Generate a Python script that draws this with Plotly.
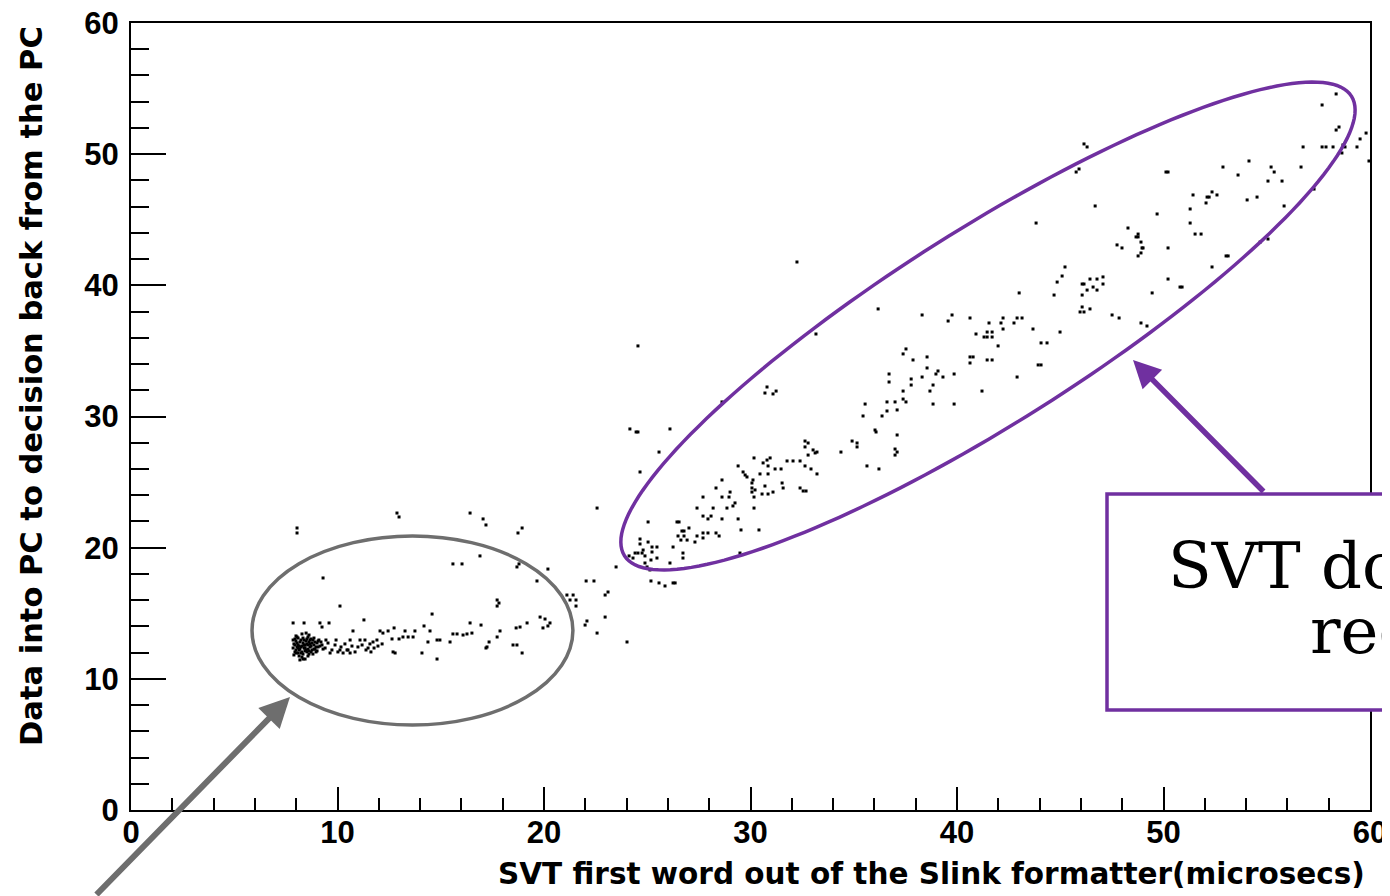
import math
import plotly.graph_objects as go

# ---------------- data ----------------
# low-latency region: scattered points
low_x = [8.04, 8.04, 12.88, 12.98, 16.42, 17.05, 17.19, 18.94, 18.74, 22.57, 16.90, 15.59, 16.03, 18.69, 18.79,
         20.19, 9.30, 19.66, 22.04, 22.42, 21.11, 21.41, 21.26, 21.55, 21.55, 17.73, 17.82, 17.73, 10.12, 14.58,
         11.28, 7.85, 8.38, 9.15, 9.59, 9.25, 16.42, 16.95, 19.18, 19.81, 20.05, 20.29, 20.19, 19.95, 22.08,
         21.99, 22.57, 18.65, 18.84, 14.19, 12.74, 12.45, 13.27, 13.75, 12.06, 12.20, 10.75, 14.48, 17.87, 15.59,
         15.79, 16.27, 16.51, 13.17, 13.42, 13.66, 14.82, 14.96, 15.45, 14.38, 17.34, 17.73, 12.64, 12.98, 17.24,
         18.50, 18.69, 12.69, 12.79, 14.09, 18.94, 14.82, 8.33, 11.33, 11.72, 11.91, 10.12, 10.46, 10.61, 10.99,
         11.48, 22.96, 23.10, 22.96, 24.02, 23.49, 16.08, 17.19]
low_y = [21.50, 21.12, 22.64, 22.34, 22.64, 22.19, 21.73, 21.50, 21.12, 23.02, 19.37, 18.76, 18.76, 18.53, 18.76,
         18.37, 17.69, 17.46, 17.46, 17.46, 16.39, 16.39, 16.01, 16.01, 15.55, 16.01, 15.78, 15.55, 15.55, 14.94,
         14.49, 14.26, 14.26, 14.26, 14.26, 13.95, 14.26, 14.10, 14.26, 14.71, 14.56, 14.26, 14.03, 13.88, 14.41,
         14.10, 13.49, 13.88, 13.95, 14.03, 13.88, 13.65, 13.65, 13.65, 13.65, 13.49, 13.65, 13.65, 13.65, 13.42,
         13.42, 13.42, 13.49, 13.19, 13.19, 13.19, 12.96, 12.96, 12.81, 12.81, 12.81, 13.19, 13.04, 13.04, 12.43,
         12.58, 12.58, 12.05, 11.97, 11.97, 11.97, 11.51, 11.51, 12.96, 12.81, 12.96, 12.20, 12.20, 11.97, 12.43,
         12.35, 16.39, 16.62, 14.71, 12.81, 18.53, 13.34, 12.35]

# low-latency region: dense cluster near 8-12 microsecs
cluster_x = [7.85, 7.94, 7.99, 7.89, 8.09, 8.18, 8.23, 8.28, 8.14, 8.38, 8.43, 8.48, 8.33, 8.57, 8.62, 8.67, 8.72,
             8.81, 8.86, 8.91, 9.01, 9.06, 8.04, 8.18, 8.52, 8.77, 7.99, 8.28, 8.48, 8.62, 8.18, 8.43, 8.57, 8.96,
             9.10, 8.09, 8.38, 8.67, 7.85, 7.94, 7.99, 8.14, 8.33, 8.48, 8.72, 8.81, 8.28, 8.04, 8.43, 8.57,
             7.89, 7.94, 8.04, 8.09, 8.14, 8.23, 8.23, 8.33, 8.38, 8.43, 8.52, 8.52, 8.57, 8.62, 8.67, 8.72,
             8.77, 8.86, 8.91, 8.96, 9.01, 9.06, 8.09, 8.28, 8.00, 8.62, 8.86, 9.15, 9.20, 9.30,
             9.25, 9.40, 9.54, 9.73, 9.88, 10.02, 10.17, 10.36, 10.51, 10.70, 10.85, 11.19, 11.38, 11.57, 11.77,
             11.96, 12.16, 9.44, 9.64, 9.93, 10.27, 10.61, 11.09, 11.62]
cluster_y = [12.96, 12.58, 12.20, 11.82, 13.11, 12.81, 12.43, 12.05, 11.74, 12.96, 12.58, 12.20, 11.89, 13.19,
             12.81, 12.43, 12.05, 12.96, 12.58, 12.27, 12.73, 12.43, 12.73, 12.27, 12.66, 12.20, 13.27, 13.42,
             13.49, 13.34, 11.44, 11.51, 11.74, 12.05, 12.96, 11.97, 12.35, 12.66, 12.35, 12.05, 12.88, 12.50,
             12.73, 12.88, 13.04, 11.89, 11.66, 12.43, 12.13, 12.27,
             12.66, 13.04, 13.19, 12.58, 12.20, 12.96, 11.97, 13.11, 12.58, 12.35, 13.04, 12.05, 12.58, 12.13,
             12.96, 12.50, 12.73, 12.27, 12.81, 12.43, 12.13, 12.88, 12.35, 12.50, 11.97, 11.89, 13.11, 12.50,
             12.81, 12.27,
             12.58, 12.35, 12.73, 12.20, 12.58, 12.05, 12.43, 12.66, 12.20, 12.50, 12.05, 12.58, 12.20, 12.66,
             12.35, 12.50, 12.66, 12.96, 11.97, 12.96, 11.97, 12.96, 12.96, 12.05]

# SVT dominated region: lower part (24-37 microsecs)
mid_x = [24.55, 24.16, 24.46, 24.55, 26.10, 25.57, 24.65, 25.04, 26.44, 26.54, 27.70, 28.33, 27.41, 28.19, 27.70,
         27.94, 28.09, 26.68, 26.78, 26.49, 26.63, 26.93, 26.78, 27.02, 27.41, 27.70, 27.70, 27.94, 27.31, 28.33,
         28.48, 24.65, 24.65, 25.04, 25.23, 25.47, 25.23, 25.47, 25.18, 24.41, 24.55, 24.75, 24.89, 24.31, 24.12,
         24.89, 24.99, 25.13, 24.80, 26.25, 26.73, 26.73, 26.10, 25.18, 25.57, 25.86, 26.25, 26.35, 29.54, 30.41,
         29.49, 28.62, 29.40, 29.25, 29.15, 28.86, 30.17, 30.17, 28.62, 29.01, 28.96, 30.56, 30.85, 31.09, 30.07,
         30.22, 30.07, 32.40, 32.55, 32.69, 30.70, 31.53, 31.58, 28.62, 30.12, 30.07, 30.46, 30.85, 29.64, 29.74,
         29.83, 32.64, 32.93, 33.22, 30.85, 31.19, 31.48, 29.40, 31.77, 32.06, 32.40, 30.17, 30.61, 30.80, 30.95,
         34.38, 32.64, 32.79, 32.64, 33.03, 33.13, 32.79, 33.22, 34.92, 35.16, 35.16, 35.64, 36.22, 36.03, 36.08,
         35.55, 36.61, 35.45, 36.37, 36.61, 30.80, 31.24, 31.09, 30.70, 28.62, 33.17, 32.25]
mid_y = [35.38, 29.05, 28.82, 28.82, 29.05, 27.29, 25.77, 21.96, 21.96, 21.96, 23.86, 24.55, 23.02, 23.02, 22.41,
         22.19, 22.41, 21.27, 21.27, 20.89, 20.58, 20.58, 20.89, 21.50, 20.89, 21.12, 20.74, 21.12, 20.43, 21.12,
         20.89, 20.66, 20.28, 20.43, 20.05, 20.05, 19.67, 19.21, 19.06, 19.59, 19.59, 19.59, 19.37, 19.21, 19.37,
         18.83, 18.53, 18.30, 19.82, 20.05, 19.59, 19.21, 18.83, 17.46, 17.31, 17.08, 17.31, 17.31, 21.35, 21.35,
         19.59, 22.19, 22.19, 23.41, 23.18, 23.02, 23.86, 23.02, 23.86, 24.24, 23.86, 24.09, 24.09, 24.24, 24.55,
         24.40, 24.24, 24.55, 24.32, 24.32, 24.70, 24.93, 24.55, 25.16, 25.16, 24.93, 25.62, 25.62, 25.77, 25.54,
         25.39, 26.23, 26.00, 25.62, 26.23, 26.00, 26.00, 26.23, 26.61, 26.61, 26.61, 26.84, 26.46, 26.68, 26.84,
         27.29, 28.13, 27.98, 27.68, 27.45, 27.22, 27.06, 27.29, 28.13, 27.98, 27.68, 26.23, 26.00, 28.97, 28.82,
         30.95, 31.11, 30.04, 30.04, 30.42, 32.25, 31.94, 31.72, 31.79, 31.11, 36.29, 41.78]

# SVT dominated region: upper part (36-60 microsecs)
high_x = [36.18, 38.31, 39.57, 39.76, 40.63, 40.92, 41.46, 41.70, 41.31, 41.46, 41.70, 41.55, 42.13, 42.23, 42.23,
          42.76, 42.91, 43.15, 43.01, 41.99, 43.68, 44.07, 44.36, 44.99, 44.70, 44.85, 45.09, 45.23, 46.06, 46.15,
          46.30, 46.06, 46.44, 46.59, 46.78, 46.78, 47.07, 47.07, 46.06, 45.96, 46.15, 46.44, 47.51, 47.85, 48.91,
          49.20, 47.75, 47.99, 48.77, 48.67, 48.77, 48.91, 48.96, 49.01, 48.91, 48.77, 48.28, 40.63, 40.78, 40.63,
          41.46, 41.70, 42.91, 43.93, 44.07, 41.21, 37.53, 37.39, 37.87, 38.55, 36.71, 36.71, 37.78, 37.78, 38.31,
          38.55, 38.98, 39.08, 39.32, 39.86, 38.84, 38.69, 37.39, 37.39, 37.53, 37.00, 37.10, 38.84, 39.86, 37.10,
          37.00, 37.10, 37.00,
          58.36, 57.68, 58.36, 58.50, 59.81, 59.52, 56.76, 57.68, 57.87, 58.21, 58.69, 58.79, 58.64, 59.37, 59.95,
          54.14, 52.88, 55.21, 55.36, 56.66, 53.61, 55.06, 55.74, 50.12, 50.22, 46.15, 46.30, 51.43, 52.11, 52.21,
          52.35, 52.59, 52.06, 54.05, 54.53, 57.29, 55.84, 46.69, 49.69, 51.29, 51.29, 51.53, 51.82, 54.68, 55.06,
          52.35, 53.03, 53.13, 50.22, 50.80, 50.90, 49.45, 50.22, 45.77, 45.91, 43.83]
high_y = [38.20, 37.74, 37.28, 37.74, 37.51, 36.29, 36.44, 36.44, 36.06, 36.06, 36.06, 37.13, 37.13, 37.51, 36.67,
          37.13, 37.51, 37.51, 39.42, 35.38, 36.67, 35.61, 35.61, 36.44, 39.26, 40.25, 40.71, 41.40, 40.10, 40.10,
          39.64, 39.26, 40.48, 39.87, 39.64, 40.48, 40.64, 40.10, 38.35, 37.97, 37.97, 38.20, 37.74, 37.51, 37.13,
          36.90, 43.08, 42.85, 43.69, 43.69, 42.24, 43.30, 42.85, 42.85, 42.47, 43.91, 44.37, 34.54, 34.54, 34.08,
          34.31, 34.31, 33.01, 33.93, 33.93, 31.94, 35.15, 34.77, 34.31, 34.54, 33.24, 32.63, 32.86, 32.40, 33.01,
          33.70, 33.24, 33.47, 33.01, 33.24, 32.40, 31.94, 31.94, 31.33, 31.11, 31.11, 30.50, 30.95, 30.95, 28.59,
          27.52, 27.29, 27.06,
          54.59, 53.75, 51.84, 52.07, 51.61, 51.16, 50.55, 50.55, 50.55, 50.55, 50.70, 50.55, 50.09, 50.55, 49.48,
          49.48, 49.02, 49.02, 48.64, 49.02, 48.41, 47.95, 47.95, 48.64, 48.64, 50.78, 50.55, 46.89, 46.73, 46.73,
          47.12, 46.89, 46.28, 46.51, 46.73, 47.34, 46.05, 46.05, 45.44, 45.82, 44.75, 43.91, 43.91, 43.30, 43.53,
          41.40, 42.24, 42.24, 40.48, 39.87, 39.87, 39.42, 42.85, 48.64, 48.87, 44.75]

x_title = "SVT first word out of the Slink formatter(microsecs)"
y_title = "Data into PC to decision back from the PC"
box_line1 = "SVT dominated"
box_line2 = "region"

# ---------------- figure ----------------
# the page body adds an 8px offset; left/top margins are reduced to compensate
OFF = 8
ML, MT = 131 - OFF, 23 - OFF
MR, MB = 30, 86
PW, PH = 1239, 787
W, H = ML + PW + MR, MT + PH + MB
XR, YR = 60.0, 60.0
sx, sy = PW / XR, PH / YR   # pixels per unit

PURPLE = "#7030A0"
GRAY = "#6e6e6e"

fig = go.Figure()
marker = dict(symbol="square", size=3, color="black", line=dict(width=0))
for xs, ys in [(low_x, low_y), (cluster_x, cluster_y), (mid_x, mid_y), (high_x, high_y)]:
    fig.add_trace(go.Scatter(x=xs, y=ys, mode="markers", marker=marker, showlegend=False, hoverinfo="skip"))

# rotated ellipse around the SVT-dominated band (defined in data units)
cx, cy = 41.50, 36.90
a_px, b_px, ang = 430.0, 97.0, math.radians(32.3)
pts = []
for i in range(181):
    t = 2 * math.pi * i / 180
    dxp = a_px * math.cos(t) * math.cos(ang) - b_px * math.sin(t) * math.sin(ang)
    dyp = a_px * math.cos(t) * math.sin(ang) + b_px * math.sin(t) * math.cos(ang)
    pts.append((cx + dxp / sx, cy + dyp / sy))
path = "M " + " L ".join(f"{px:.3f},{py:.3f}" for px, py in pts) + " Z"


def px2paper(px, py):
    # px, py: position in the 1390x896 screenshot
    return (px - 131) / PW, (810 - py) / PH


bx0, by0 = px2paper(1107, 710)
bx1, by1 = px2paper(1107, 494)
shapes = [
    dict(type="circle", xref="x", yref="y", x0=5.86, x1=21.40, y0=6.48, y1=20.89,
         line=dict(color=GRAY, width=3.5), layer="above"),
    dict(type="path", xref="x", yref="y", path=path, line=dict(color=PURPLE, width=3.5), layer="above"),
    dict(type="rect", xref="paper", yref="paper", x0=bx0, x1=1.5, y0=by0, y1=by1,
         line=dict(color=PURPLE, width=3.5), fillcolor="white", layer="above"),
]

annotations = []
# arrows
gx, gy = px2paper(290, 697)
annotations.append(dict(xref="paper", yref="paper", x=gx, y=gy, ax=-195, ay=210, text="",
                        showarrow=True, arrowhead=2, arrowsize=1, arrowwidth=6, arrowcolor=GRAY))
ppx, ppy = px2paper(1133, 360)
annotations.append(dict(xref="paper", yref="paper", x=ppx, y=ppy, ax=132, ay=133, text="",
                        showarrow=True, arrowhead=2, arrowsize=1, arrowwidth=5.5, arrowcolor=PURPLE))
# box text
t1x, t1y = px2paper(1166, 566)
t2x, t2y = px2paper(1308, 631)
box_font = dict(family="DejaVu Serif", size=64, color="black")
annotations.append(dict(xref="paper", yref="paper", x=t1x, y=t1y, xanchor="left", yanchor="middle",
                        text=box_line1, showarrow=False, font=box_font))
annotations.append(dict(xref="paper", yref="paper", x=t2x, y=t2y, xanchor="left", yanchor="middle",
                        text=box_line2, showarrow=False, font=box_font))
# axis titles (ROOT style: aligned to the axis end)
xt_x, xt_y = px2paper(1367, 874)
annotations.append(dict(xref="paper", yref="paper", x=xt_x, y=xt_y, xanchor="right", yanchor="middle",
                        text=x_title, showarrow=False,
                        font=dict(family="DejaVu Sans", size=29.5, color="black", weight="bold")))
yt_x, yt_y = px2paper(31, 24)
annotations.append(dict(xref="paper", yref="paper", x=yt_x, y=yt_y, xanchor="center", yanchor="top",
                        text=y_title, textangle=-90, showarrow=False,
                        font=dict(family="DejaVu Sans", size=30.5, color="black", weight="bold")))

tick_font = dict(family="Liberation Sans", size=31, color="black", weight="bold")
common = dict(showline=True, linecolor="black", linewidth=2, mirror=True, showgrid=False, zeroline=False,
              ticks="inside", tickcolor="black", tickwidth=2, dtick=10, tick0=0,
              tickfont=tick_font, ticklabeloverflow="allow")
fig.update_xaxes(range=[0, XR], ticklen=23, ticklabelstandoff=-6,
                 minor=dict(dtick=2, ticks="inside", ticklen=12, tickwidth=2, tickcolor="black"),
                 **common)
fig.update_yaxes(range=[0, YR], ticklen=35, ticklabelstandoff=4,
                 minor=dict(dtick=2, ticks="inside", ticklen=18, tickwidth=2, tickcolor="black"),
                 **common)

fig.update_layout(width=W, height=H, margin=dict(l=ML, r=MR, t=MT, b=MB, autoexpand=False),
                  paper_bgcolor="white", plot_bgcolor="white", shapes=shapes, annotations=annotations,
                  showlegend=False)

fig.write_html("out.html")
